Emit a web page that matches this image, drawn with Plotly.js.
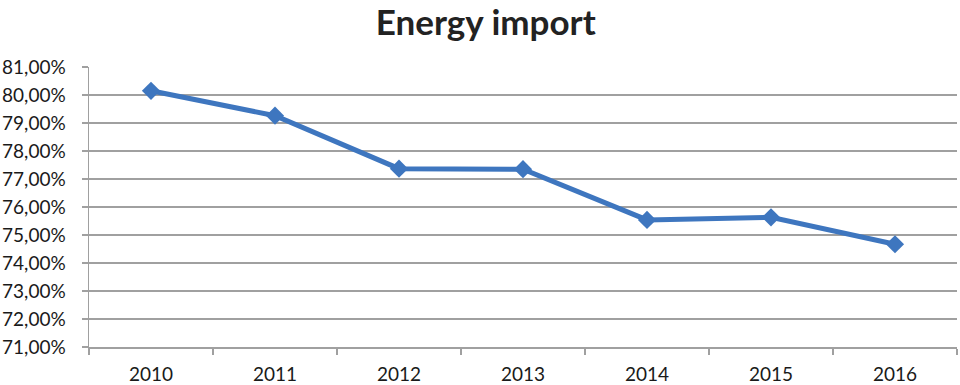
<!DOCTYPE html>
<html>
<head>
<meta charset="utf-8">
<script src="https://cdn.plot.ly/plotly-3.0.1.min.js"></script>
<style>html,body{margin:0;padding:0;background:#fff;}#chart{width:960px;height:385px;}</style>
</head>
<body>
<div id="chart"></div>
<script>
const years = ['2010', '2011', '2012', '2013', '2014', '2015', '2016'];
const energyImport = [80.15, 79.26, 77.37, 77.35, 75.54, 75.63, 74.67];
const yTicks = [71, 72, 73, 74, 75, 76, 77, 78, 79, 80, 81];

const gridColor = '#a0a0a0';
const fontFam = 'Lato, "Open Sans", sans-serif';

Plotly.newPlot('chart', [{
  x: years,
  y: energyImport,
  type: 'scatter',
  mode: 'lines+markers',
  line: {color: '#3e76bf', width: 5},
  marker: {symbol: 'diamond', size: 14, color: '#3e76bf'},
  hoverinfo: 'none'
}], {
  width: 960,
  height: 385,
  margin: {l: 89, r: 3, t: 67, b: 38},
  paper_bgcolor: '#fff',
  plot_bgcolor: '#fff',
  showlegend: false,
  title: {
    text: '<b>Energy import</b>',
    font: {family: fontFam, size: 35, color: '#222'},
    x: 0.506, xanchor: 'center',
    y: 0.972, yanchor: 'top'
  },
  xaxis: {
    type: 'category',
    range: [-0.5, 6.5],
    tickson: 'boundaries',
    ticks: 'outside',
    ticklen: 6,
    tickcolor: gridColor,
    tickwidth: 1.5,
    ticklabelstandoff: 10,
    showline: true,
    linecolor: gridColor,
    linewidth: 1.5,
    showgrid: false,
    zeroline: false,
    tickfont: {family: fontFam, size: 19, color: '#1a1a1a'},
    fixedrange: true
  },
  yaxis: {
    range: [71, 81],
    tickvals: yTicks,
    ticktext: yTicks.map(v => v.toFixed(2).replace('.', ',') + '%'),
    ticks: 'outside',
    ticklen: 6,
    tickcolor: gridColor,
    tickwidth: 1.5,
    ticklabelstandoff: 12,
    showline: true,
    linecolor: gridColor,
    linewidth: 1.5,
    showgrid: true,
    gridcolor: gridColor,
    gridwidth: 1.5,
    zeroline: false,
    tickfont: {family: fontFam, size: 19, color: '#1a1a1a'},
    fixedrange: true
  }
}, {displayModeBar: false, staticPlot: true});
</script>
</body>
</html>
